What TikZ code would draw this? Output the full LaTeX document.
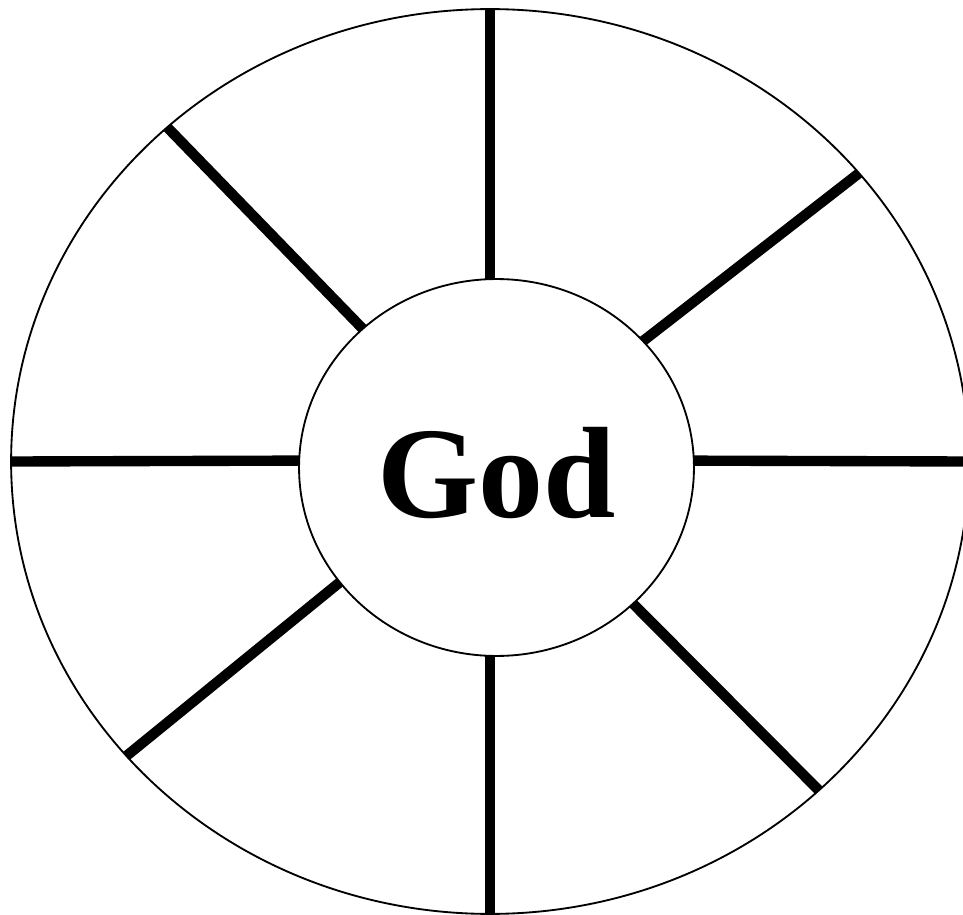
\documentclass[tikz,border=0pt]{standalone}
\usepackage{fontspec}
\setmainfont{Liberation Serif}
\usetikzlibrary{shapes.geometric}
\tikzset{
  wheel/.style={ellipse, draw, line width=1.05pt, outer sep=0pt,
                minimum width=19.16cm, minimum height=18.1cm},
  hubdisk/.style={ellipse, draw, fill=white, line width=1.05pt,
                  outer sep=0pt, inner sep=0pt,
                  minimum width=7.9cm, minimum height=7.54cm,
                  font=\fontsize{74}{80}\selectfont\bfseries},
  spoke/.style={line width=5.9pt},
}
\begin{document}
\begin{tikzpicture}[x=0.02cm, y=-0.02cm]
% canvas in pixel units, y pointing down
\useasboundingbox (0,0) rectangle (963,915);
\clip (0,0) rectangle (963,915);
% outer rim, runs slightly past the right edge
\node[wheel] (rim) at (490,461.5) {};
\coordinate (axle) at (490,460);
% eight spokes; the hub is drawn over their inner ends
\foreach \a in {90,38.3,0,315.7,270,219.1,180,134.2}
  \draw[spoke] (axle) -- (rim.\a);
\node[hubdisk] (hub) at (496.5,467.5) {\raisebox{-0.12cm}[\height][\depth]{God}};
\end{tikzpicture}
\end{document}
